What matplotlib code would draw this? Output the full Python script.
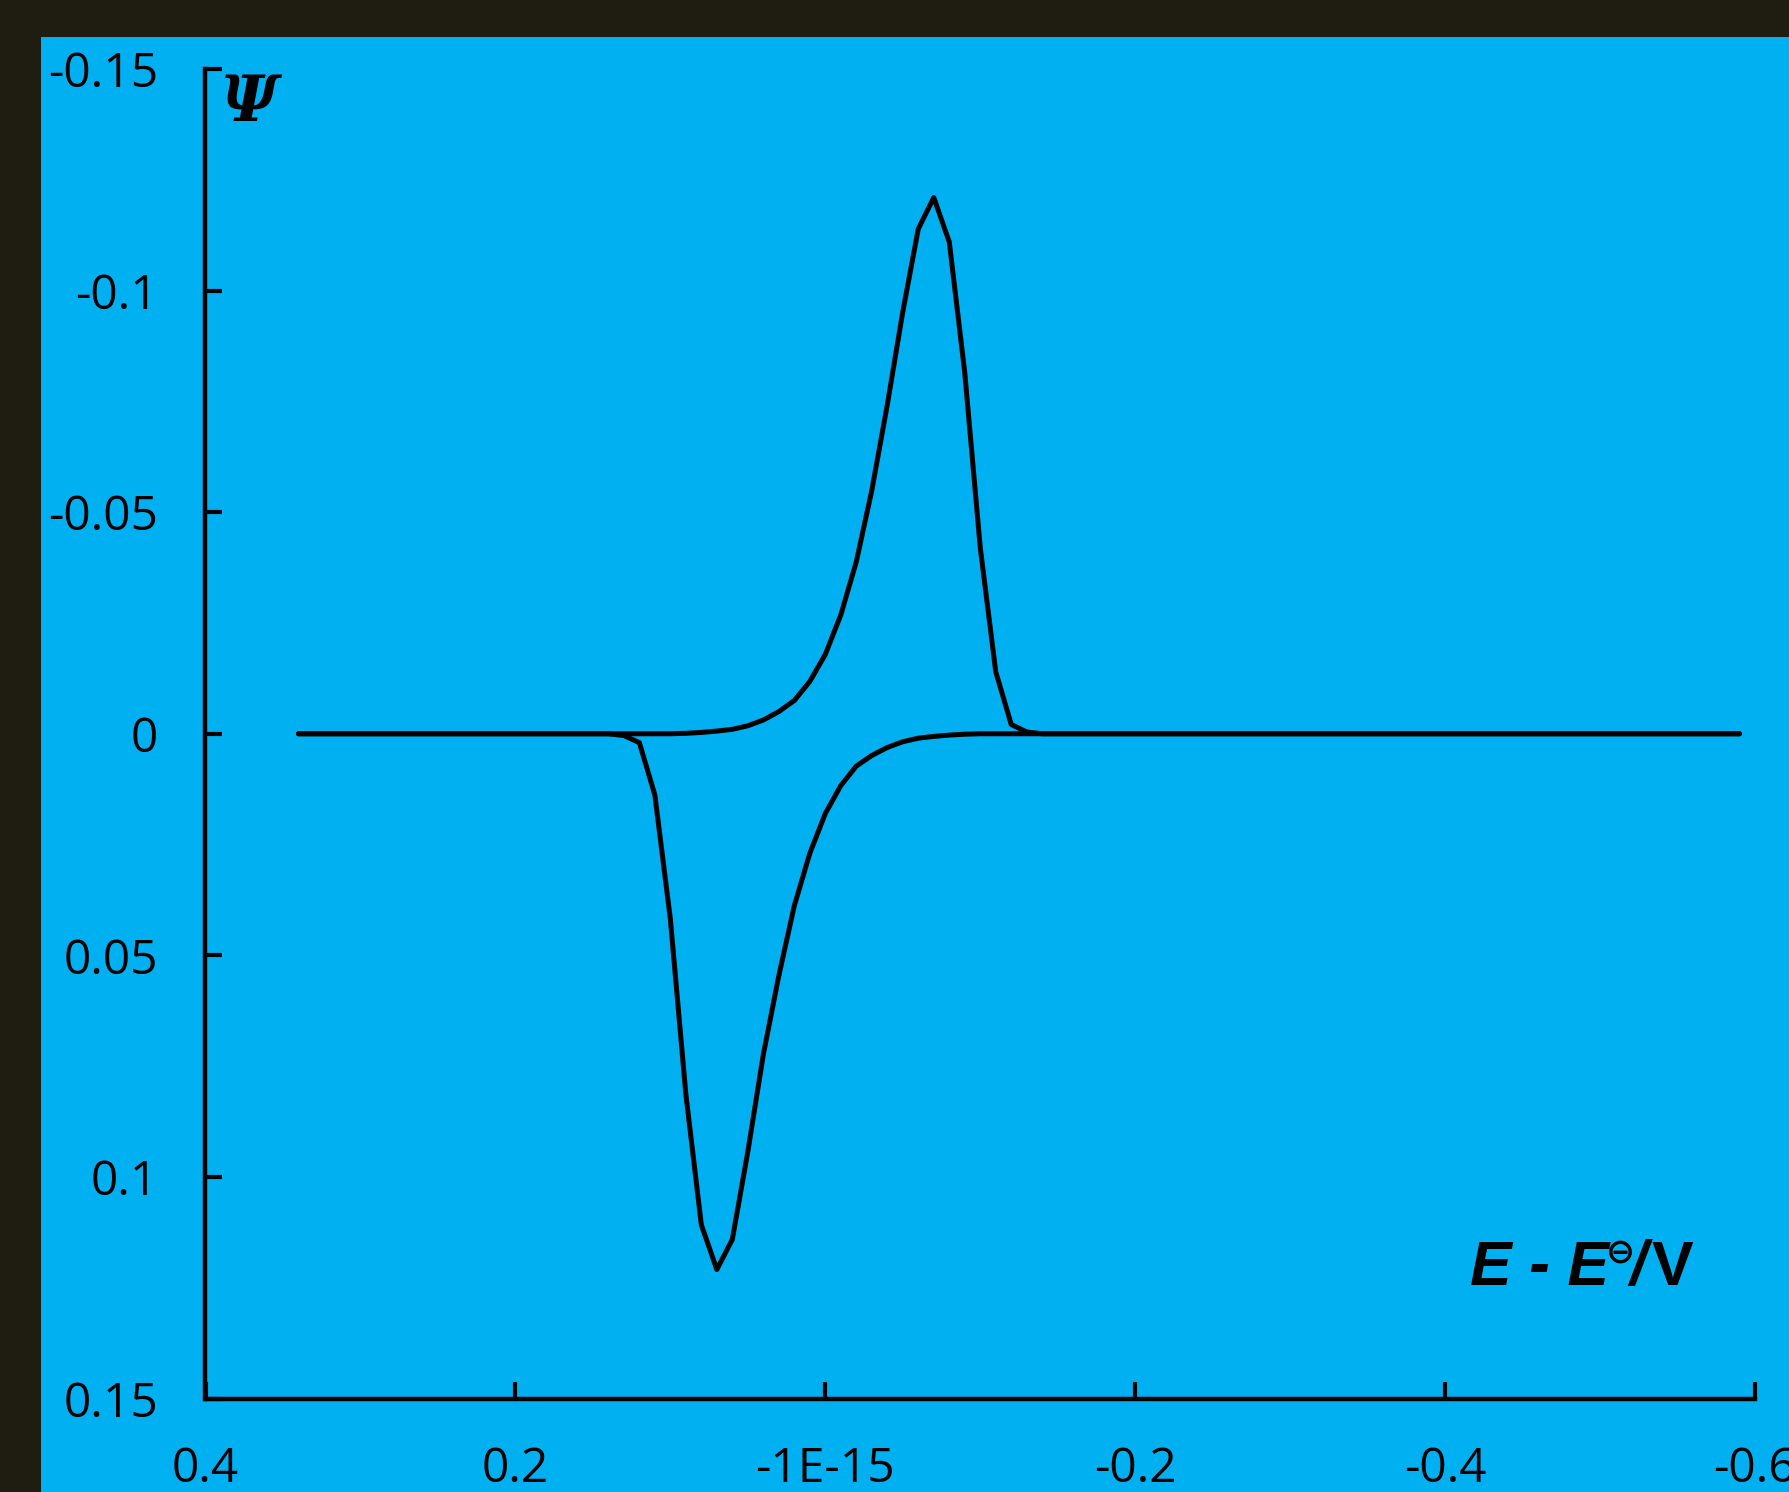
import matplotlib
matplotlib.use("Agg")
import matplotlib.pyplot as plt
from matplotlib.patches import Rectangle

# ---------------- data ----------------
# forward branch (negative psi, drawn upward because the y axis is reversed)
E_fwd = [0.34, 0.10, 0.09, 0.08, 0.07, 0.06, 0.05, 0.04, 0.03, 0.02, 0.01, 0.00,
         -0.01, -0.02, -0.03, -0.04, -0.05, -0.06, -0.07, -0.08, -0.09, -0.10,
         -0.11, -0.12, -0.13, -0.14, -0.59]
psi_fwd = [0.0, 0.0, -0.0001, -0.0003, -0.0006, -0.0010, -0.0018, -0.0031, -0.0050,
           -0.0075, -0.0118, -0.0179, -0.0268, -0.0388, -0.0549, -0.0742, -0.0952,
           -0.1139, -0.1210, -0.1110, -0.0815, -0.0420, -0.0140, -0.0021, -0.0004,
           0.0, 0.0]

# reverse branch (positive psi)
E_rev = [-0.59, -0.10, -0.09, -0.08, -0.07, -0.06, -0.05, -0.04, -0.03, -0.02, -0.01,
         0.00, 0.01, 0.02, 0.03, 0.04, 0.05, 0.06, 0.07, 0.08, 0.09, 0.10, 0.11,
         0.12, 0.13, 0.14, 0.34]
psi_rev = [0.0, 0.0, 0.0001, 0.0003, 0.0006, 0.0010, 0.0018, 0.0031, 0.0049, 0.0073,
           0.0117, 0.0180, 0.0270, 0.0388, 0.0546, 0.0724, 0.0943, 0.1141, 0.1209,
           0.1108, 0.0813, 0.0418, 0.0138, 0.0020, 0.0004, 0.0, 0.0]

x_ticks = [0.4, 0.2, 0.0, -0.2, -0.4, -0.6]
x_tick_labels = ["0.4", "0.2", "-1E-15", "-0.2", "-0.4", "-0.6"]
y_ticks = [-0.15, -0.1, -0.05, 0.0, 0.05, 0.1, 0.15]
y_tick_labels = ["-0.15", "-0.1", "-0.05", "0", "0.05", "0.1", "0.15"]

# ---------------- figure ----------------
W, H = 1790, 1492
DARK = "#1f1c12"
BLUE = "#00b0f0"

fig = plt.figure(figsize=(W / 100, H / 100), dpi=100, facecolor=DARK)
fig.patches.append(Rectangle((41 / W, 0), 1 - 41 / W, 1 - 37 / H,
                             transform=fig.transFigure, facecolor=BLUE,
                             edgecolor="none", zorder=-10))

ax_left, ax_right = 205.5, 1755.0
ax_top, ax_bottom = 69.0, 1398.5
ax = fig.add_axes([ax_left / W, 1 - ax_bottom / H,
                   (ax_right - ax_left) / W, (ax_bottom - ax_top) / H])
ax.set_zorder(5)
ax.set_facecolor(BLUE)

ax.plot(E_fwd, psi_fwd, color="black", lw=3.6, solid_capstyle="round",
        solid_joinstyle="round", zorder=3)
ax.plot(E_rev, psi_rev, color="black", lw=3.6, solid_capstyle="round",
        solid_joinstyle="round", zorder=3)

ax.set_xlim(0.4, -0.6)
ax.set_ylim(0.15, -0.15)

for s in ["top", "right"]:
    ax.spines[s].set_visible(False)
for s in ["left", "bottom"]:
    ax.spines[s].set_linewidth(3.2)
    ax.spines[s].set_color("black")

ax.set_xticks(x_ticks)
ax.set_xticklabels(x_tick_labels)
ax.set_yticks(y_ticks)
ax.set_yticklabels(y_tick_labels)
ax.tick_params(axis="both", direction="in", length=12, width=3.0,
               colors="black", labelsize=34.5, pad=34)
for lab in ax.get_xticklabels() + ax.get_yticklabels():
    lab.set_family("Open Sans")

# y-axis symbol
fig.text(221 / W, 1 - 121 / H, "Ψ", ha="left", va="baseline",
         family="DejaVu Serif", weight="bold", style="italic", fontsize=45,
         color="black", zorder=10)

# x-axis label  E - E⊖/V
fig.text(1470 / W, 1 - 1285 / H, "E - E", ha="left", va="baseline",
         family="Liberation Sans", weight="bold", style="italic", fontsize=45,
         color="black", zorder=10)
fig.text(1620 / W, 1 - 1253 / H, "⊖", ha="center", va="center",
         family="DejaVu Sans", weight="bold", fontsize=25, color="black",
         zorder=10)
fig.text(1629 / W, 1 - 1285 / H, "/", ha="left", va="baseline",
         family="Liberation Sans", weight="bold", style="italic", fontsize=45,
         color="black", zorder=10)
fig.text(1652 / W, 1 - 1285 / H, "V", ha="left", va="baseline",
         family="Liberation Sans", weight="bold", fontsize=45, color="black",
         zorder=10)

fig.savefig("out.png", dpi=100, facecolor=DARK)
